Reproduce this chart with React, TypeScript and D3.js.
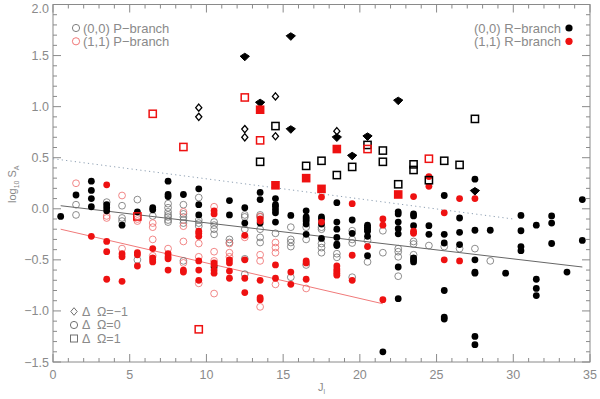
import React from "react";
import * as d3 from "d3";

// (0,0) P-branch, ΔΩ=0 : open grey circles
const p00Circles: [number, number][] = [
  [1.5, 0.04], [1.5, -0.06], [3.5, 0.065], [4.5, 0.03], [4.5, -0.09], [4.5, -0.12],
  [5.5, 0.09], [5.5, -0.5], [6.5, -0.07],
  [7.5, 0.05], [7.5, 0.01], [7.5, -0.03], [7.5, -0.06], [7.5, -0.08], [7.5, -0.11], [7.5, -0.13],
  [8.5, 0.04], [8.5, -0.05], [8.5, -0.08], [8.5, -0.11], [8.5, -0.14], [8.5, -0.51],
  [9.5, 0.11], [9.5, -0.11], [9.5, -0.14], [9.5, -0.17],
  [10.5, -0.13], [10.5, -0.16], [10.5, -0.2], [10.5, -0.25],
  [11.5, -0.3], [11.5, -0.33],
  [12.5, -0.06], [12.5, -0.08], [12.5, -0.2], [12.5, -0.49], [12.5, -0.64],
  [13.5, -0.06], [13.5, -0.08], [13.5, -0.2], [13.5, -0.28], [13.5, -0.33],
  [14.5, -0.24],
  [15.5, -0.18], [15.5, -0.3], [15.5, -0.33], [15.5, -0.37], [15.5, -0.67],
  [16.5, -0.18], [16.5, -0.3], [16.5, -0.55],
  [17.5, -0.18], [17.5, -0.2], [17.5, -0.34], [17.5, -0.38], [17.5, -0.43],
  [18.5, -0.44], [18.5, -0.475],
  [19.5, -0.215], [19.5, -0.3], [19.5, -0.335], [19.5, -0.67],
  [20.5, -0.31], [20.5, -0.52],
  [21.5, -0.215], [21.5, -0.43],
  [22.5, -0.39], [22.5, -0.42], [22.5, -0.47], [22.5, -0.66],
  [23.5, -0.32], [23.5, -0.345], [23.5, -0.45],
  [24.5, -0.36], [25.5, -0.37], [26.5, -0.39], [27.5, -0.39], [28.5, -0.51],
];

// (1,1) P-branch, ΔΩ=0 : open red circles
const p11Circles: [number, number][] = [
  [1.5, 0.25], [3.5, -0.07], [3.5, -0.09], [4.5, 0.13], [4.5, -0.39],
  [5.5, -0.1], [5.5, -0.12],
  [6.5, -0.14], [6.5, -0.18], [6.5, -0.3], [6.5, -0.46],
  [7.5, -0.39],
  [8.5, -0.03], [8.5, -0.17], [8.5, -0.32], [8.5, -0.53],
  [9.5, -0.34], [9.5, -0.47], [9.5, -0.73],
  [10.5, 0.02], [10.5, -0.42], [10.5, -0.51], [10.5, -0.83],
  [11.5, -0.34], [11.5, -0.43], [11.5, -0.47],
  [12.5, -0.28],
  [13.5, -0.075], [13.5, -0.45], [13.5, -0.51], [13.5, -0.96],
  [14.5, -0.33], [14.5, -0.38], [14.5, -0.43], [14.5, -0.74],
  [16.5, -0.78],
];

// (0,0) R-branch, ΔΩ=0 : filled black circles
const r00Circles: [number, number][] = [
  [0.5, -0.075], [1.5, 0.135],
  [2.5, 0.27], [2.5, 0.18], [2.5, 0.1], [2.5, 0.02],
  [3.5, 0.04], [3.5, 0.01], [3.5, -0.02], [4.5, -0.16], [5.5, -0.03],
  [6.5, 0.01], [6.5, -0.01],
  [7.5, 0.27], [7.5, 0.14], [7.5, 0.12], [8.5, 0.14],
  [9.5, 0.195], [9.5, 0.04], [9.5, -0.06], [10.5, -0.57],
  [11.5, 0.08], [11.5, -0.06], [12.5, 0.01], [12.5, -0.14],
  [13.5, 0.16], [13.5, 0.09], [13.5, -0.14],
  [14.5, 0.1], [14.5, 0.04], [14.5, 0.02], [14.5, -0.01], [14.5, -0.04], [14.5, -0.13],
  [15.5, -0.065],
  [16.5, -0.02], [16.5, -0.08], [16.5, -0.1], [16.5, -0.12], [16.5, -0.15], [16.5, -0.25],
  [17.5, -0.08], [17.5, -0.1], [17.5, -0.15], [17.5, -0.29],
  [18.5, 0.06], [18.5, -0.13], [18.5, -0.2], [18.5, -0.28], [18.5, -0.345], [18.5, -0.36],
  [19.5, -0.11], [19.5, -0.24],
  [20.5, -0.16], [20.5, -0.18], [20.5, -0.2], [20.5, -0.22], [20.5, -0.27], [20.5, -0.46],
  [21.5, -1.4],
  [22.5, -0.03], [22.5, -0.05], [22.5, -0.13], [22.5, -0.195], [22.5, -0.245], [22.5, -0.57], [22.5, -0.88],
  [23.5, -0.05], [23.5, -0.07], [23.5, -0.165], [23.5, -0.48], [23.5, -0.5], [23.5, -0.52],
  [24.5, -0.165], [24.5, -0.25],
  [25.5, 0.13], [25.5, -0.25], [25.5, -0.335], [25.5, -0.8], [25.5, -1.06], [25.5, -1.08],
  [26.5, -0.09], [26.5, -0.23], [26.5, -0.35],
  [27.5, 0.29], [27.5, -0.21], [27.5, -0.5], [27.5, -0.62], [27.5, -0.63], [27.5, -1.25], [27.5, -1.33],
  [28.5, -0.21], [29.5, -0.63],
  [30.5, -0.065], [30.5, -0.215], [30.5, -0.37], [30.5, -0.41],
  [31.5, -0.16], [31.5, -0.69], [31.5, -0.78], [31.5, -0.85],
  [32.5, -0.07], [32.5, -0.14], [32.5, -0.34],
  [33.5, -0.62], [34.5, 0.09], [34.5, -0.31],
];

// (1,1) R-branch, ΔΩ=0 : filled red circles
const r11Circles: [number, number][] = [
  [2.5, -0.27], [3.5, 0.235], [3.5, -0.32], [3.5, -0.42], [3.5, -0.69],
  [4.5, -0.44], [4.5, -0.47], [4.5, -0.71],
  [5.5, -0.43], [5.5, -0.45], [5.5, -0.56],
  [6.5, -0.39], [6.5, -0.48], [6.5, -0.5], [6.5, -0.52],
  [7.5, -0.44], [7.5, -0.47], [7.5, -0.49], [7.5, -0.6],
  [8.5, -0.6], [8.5, -0.62],
  [9.5, -0.22], [9.5, -0.24], [9.5, -0.27], [9.5, -0.51], [9.5, -0.6], [9.5, -0.7],
  [10.5, -0.02], [10.5, -0.05], [10.5, -0.53], [10.5, -0.55], [10.5, -0.6], [10.5, -0.63],
  [11.5, -0.5], [11.5, -0.53], [11.5, -0.61], [11.5, -0.68],
  [12.5, -0.26], [12.5, -0.5], [12.5, -0.68], [12.5, -0.82],
  [13.5, -0.1], [13.5, -0.12], [13.5, -0.7], [13.5, -0.87], [13.5, -0.89],
  [14.5, -0.55], [14.5, -0.68],
  [15.5, -0.62], [15.5, -0.74],
  [16.5, -0.51], [16.5, -0.53], [16.5, -0.69],
  [17.5, 0.115], [17.5, -0.13],
  [18.5, -0.56], [18.5, -0.59], [18.5, -0.61], [18.5, -0.63], [18.5, -0.65],
  [19.5, 0.05], [19.5, -0.455], [19.5, -0.7],
  [20.5, -0.37],
  [21.5, -0.1], [21.5, -0.16], [21.5, -0.89],
  [23.5, 0.12], [23.5, -0.22], [23.5, -0.24],
  [24.5, 0.315], [24.5, 0.22],
  [25.5, -0.04], [25.5, -0.5],
  [26.5, 0.1], [26.5, -0.51],
  [27.5, 0.1],
];

// ΔΩ = -1
const p00Diamonds: [number, number][] = [
  [9.5, 0.99], [9.5, 0.9], [12.5, 0.78], [12.5, 0.7], [14.5, 1.1], [14.5, 0.71], [18.5, 0.76],
];
const r00Diamonds: [number, number][] = [
  [12.5, 1.49], [13.5, 1.04], [15.5, 1.69], [15.5, 0.78], [18.5, 0.7], [19.5, 0.52],
  [20.5, 0.71], [22.5, 1.06], [27.5, 0.175],
];

// ΔΩ = 1
const p00Squares: [number, number][] = [
  [13.5, 0.46], [14.5, 0.81], [16.5, 0.42], [17.5, 0.47], [18.5, 0.33], [19.5, 0.41],
  [20.5, 0.625], [21.5, 0.57], [21.5, 0.46], [22.5, 0.24], [23.5, 0.435], [23.5, 0.38],
  [24.5, 0.28], [25.5, 0.47], [26.5, 0.43], [27.5, 0.88],
];
const p11Squares: [number, number][] = [
  [5.5, -0.075], [6.5, 0.93], [8.5, 0.605], [9.5, -1.18], [12.5, 1.09], [13.5, 0.67],
  [20.5, 0.585], [24.5, 0.49],
];
const r11Squares: [number, number][] = [
  [13.5, 0.97], [14.5, 0.23], [16.5, 0.3], [17.5, 0.195], [18.5, 0.585], [22.5, 0.14],
];

// fit lines
const fitAll: [number, number][] = [[0.5, 0.03], [34.5, -0.57]];
const fitRed: [number, number][] = [[0.5, -0.2], [21.5, -0.93]];
const fitDotted: [number, number][] = [[0, 0.49], [30, -0.1]];

const xTicks = [0, 5, 10, 15, 20, 25, 30, 35];
const yTicks = [-1.5, -1.0, -0.5, 0.0, 0.5, 1.0, 1.5, 2.0];
const omegaLegend = ["\u2212" + "1", "0", "1"];

const W = 600, H = 399;
const L = 53, R = 590, T = 4.5, B = 362;
const AX = "#8a8a8a";
const RED = "#ee1111";
const LRED = "#ee6a6a";
const GREY = "#707070";
const FONT = "'Liberation Sans', Arial, sans-serif";

export default function App() {
  const x = d3.scaleLinear().domain([0, 35]).range([L, R]);
  const y = d3.scaleLinear().domain([-1.5, 2.0]).range([B, T]);
  const line = d3.line<[number, number]>().x((d) => x(d[0])).y((d) => y(d[1]));

  const xMinor = d3.range(0, 36, 1);
  const yMinor = d3.range(-15, 21, 1).map((v) => v / 10);

  const cr = 3.4;
  const sq = 3.6;
  const diamond = (cx: number, cy: number, r: number) =>
    `M${cx},${cy - r}L${cx + r * 0.85},${cy}L${cx},${cy + r}L${cx - r * 0.85},${cy}Z`;
  const fatDiamond = (cx: number, cy: number, r: number) =>
    `M${cx},${cy - r * 0.8}L${cx + r * 1.1},${cy - r * 0.1}L${cx},${cy + r}L${cx - r * 1.1},${cy - r * 0.1}Z`;

  const legRows = [311.5, 325, 338.5];

  return (
    <svg width={W} height={H} style={{ position: "absolute", left: 0, top: 0, background: "#fff" }} fontFamily={FONT}>
      <rect x={0} y={0} width={W} height={H} fill="#fff" />
      {/* frame */}
      <rect x={L} y={T} width={R - L} height={B - T} fill="none" stroke={AX} strokeWidth={1} />
      {/* ticks */}
      <g stroke={AX} strokeWidth={1}>
        {xMinor.map((v) => {
          const major = v % 5 === 0;
          const len = major ? 8 : 4;
          return (
            <g key={"xt" + v}>
              <line x1={x(v)} x2={x(v)} y1={B} y2={B - len} />
              <line x1={x(v)} x2={x(v)} y1={T} y2={T + len} />
            </g>
          );
        })}
        {yMinor.map((v) => {
          const major = Math.round(v * 10) % 5 === 0;
          const len = major ? 8 : 4;
          return (
            <g key={"yt" + v}>
              <line x1={L} x2={L + len} y1={y(v)} y2={y(v)} />
              <line x1={R} x2={R - len} y1={y(v)} y2={y(v)} />
            </g>
          );
        })}
      </g>
      {/* tick labels */}
      <g fill={AX} fontSize={12.5}>
        {xTicks.map((v) => (
          <text key={"xl" + v} x={x(v)} y={B + 17} textAnchor="middle">{v}</text>
        ))}
        {yTicks.map((v) => (
          <text key={"yl" + v} x={L - 4} y={Math.max(y(v) + 4.5, 12.8)} textAnchor="end">
            {v < 0 ? "\u2212" + Math.abs(v).toFixed(1) : v.toFixed(1)}
          </text>
        ))}
      </g>
      {/* axis titles */}
      <text x={(L + R) / 2} y={391} textAnchor="middle" fill={AX} fontSize={11}>
        J<tspan fontSize={7} dy={3}>l</tspan>
      </text>
      <text transform={`translate(16,${y(0.24)}) rotate(-90)`} textAnchor="middle" fill={AX} fontSize={11}>
        log<tspan fontSize={7} dy={3}>10</tspan>
        <tspan dy={-3}> S</tspan>
        <tspan fontSize={7} dy={3}>A</tspan>
      </text>

      {/* fit lines */}
      <path d={line(fitDotted) || ""} fill="none" stroke="#8ea0b3" strokeWidth={1} strokeDasharray="1.2,3.2" />
      <path d={line(fitAll) || ""} fill="none" stroke="#666" strokeWidth={1} />
      <path d={line(fitRed) || ""} fill="none" stroke="#f07a7a" strokeWidth={1} />

      {/* open circles */}
      {p00Circles.map((d, i) => (
        <circle key={"pc" + i} cx={x(d[0])} cy={y(d[1])} r={cr} fill="none" stroke={GREY} strokeWidth={0.8} />
      ))}
      {p11Circles.map((d, i) => (
        <circle key={"pr" + i} cx={x(d[0])} cy={y(d[1])} r={cr} fill="none" stroke={LRED} strokeWidth={0.8} />
      ))}
      {/* filled circles */}
      {r00Circles.map((d, i) => (
        <circle key={"rc" + i} cx={x(d[0])} cy={y(d[1])} r={cr} fill="#000" />
      ))}
      {r11Circles.map((d, i) => (
        <circle key={"rr" + i} cx={x(d[0])} cy={y(d[1])} r={cr} fill={RED} />
      ))}
      {/* diamonds */}
      {p00Diamonds.map((d, i) => (
        <path key={"pd" + i} d={diamond(x(d[0]), y(d[1]), 3.6)} fill="none" stroke="#000" strokeWidth={1.3} />
      ))}
      {r00Diamonds.map((d, i) => (
        <path key={"rd" + i} d={fatDiamond(x(d[0]), y(d[1]), 4.2)} fill="#000" stroke="#000" strokeWidth={1} />
      ))}
      {/* squares */}
      {p00Squares.map((d, i) => (
        <rect key={"ps" + i} x={x(d[0]) - sq} y={y(d[1]) - sq} width={sq * 2} height={sq * 2} fill="none" stroke="#000" strokeWidth={1.5} />
      ))}
      {p11Squares.map((d, i) => (
        <rect key={"pq" + i} x={x(d[0]) - sq} y={y(d[1]) - sq} width={sq * 2} height={sq * 2} fill="none" stroke={RED} strokeWidth={1.5} />
      ))}
      {r11Squares.map((d, i) => (
        <rect key={"rs" + i} x={x(d[0]) - 4.3} y={y(d[1]) - 4.3} width={8.6} height={8.6} fill={RED} />
      ))}

      {/* legend top-left */}
      <g fontSize={13} fill={AX}>
        <circle cx={76} cy={28} r={3.6} fill="none" stroke={GREY} strokeWidth={0.9} />
        <text x={83} y={32.5}>(0,0) P&#8722;branch</text>
        <circle cx={76} cy={41.3} r={3.6} fill="none" stroke={LRED} strokeWidth={0.9} />
        <text x={83} y={46}>(1,1) P&#8722;branch</text>
      </g>
      {/* legend top-right */}
      <g fontSize={13} fill={AX}>
        <text x={561} y={32.5} textAnchor="end">(0,0) R&#8722;branch</text>
        <circle cx={569} cy={28} r={3.6} fill="#000" />
        <text x={561} y={46} textAnchor="end">(1,1) R&#8722;branch</text>
        <circle cx={569} cy={41.3} r={3.6} fill={RED} />
      </g>
      {/* legend bottom-left */}
      <g fontSize={12.5} fill={AX}>
        <path d={diamond(74, legRows[0], 3.8)} fill="none" stroke={GREY} strokeWidth={1} />
        <circle cx={74} cy={legRows[1]} r={3.6} fill="none" stroke={GREY} strokeWidth={1} />
        <rect x={70.5} y={legRows[2] - 3.5} width={7} height={7} fill="none" stroke={GREY} strokeWidth={1} />
        {omegaLegend.map((s, i) => (
          <g key={"ol" + i}>
            <text x={82} y={legRows[i] + 4.3}>&#916;</text>
            <text x={97} y={legRows[i] + 4.3}>&#937;={s}</text>
          </g>
        ))}
      </g>
    </svg>
  );
}
